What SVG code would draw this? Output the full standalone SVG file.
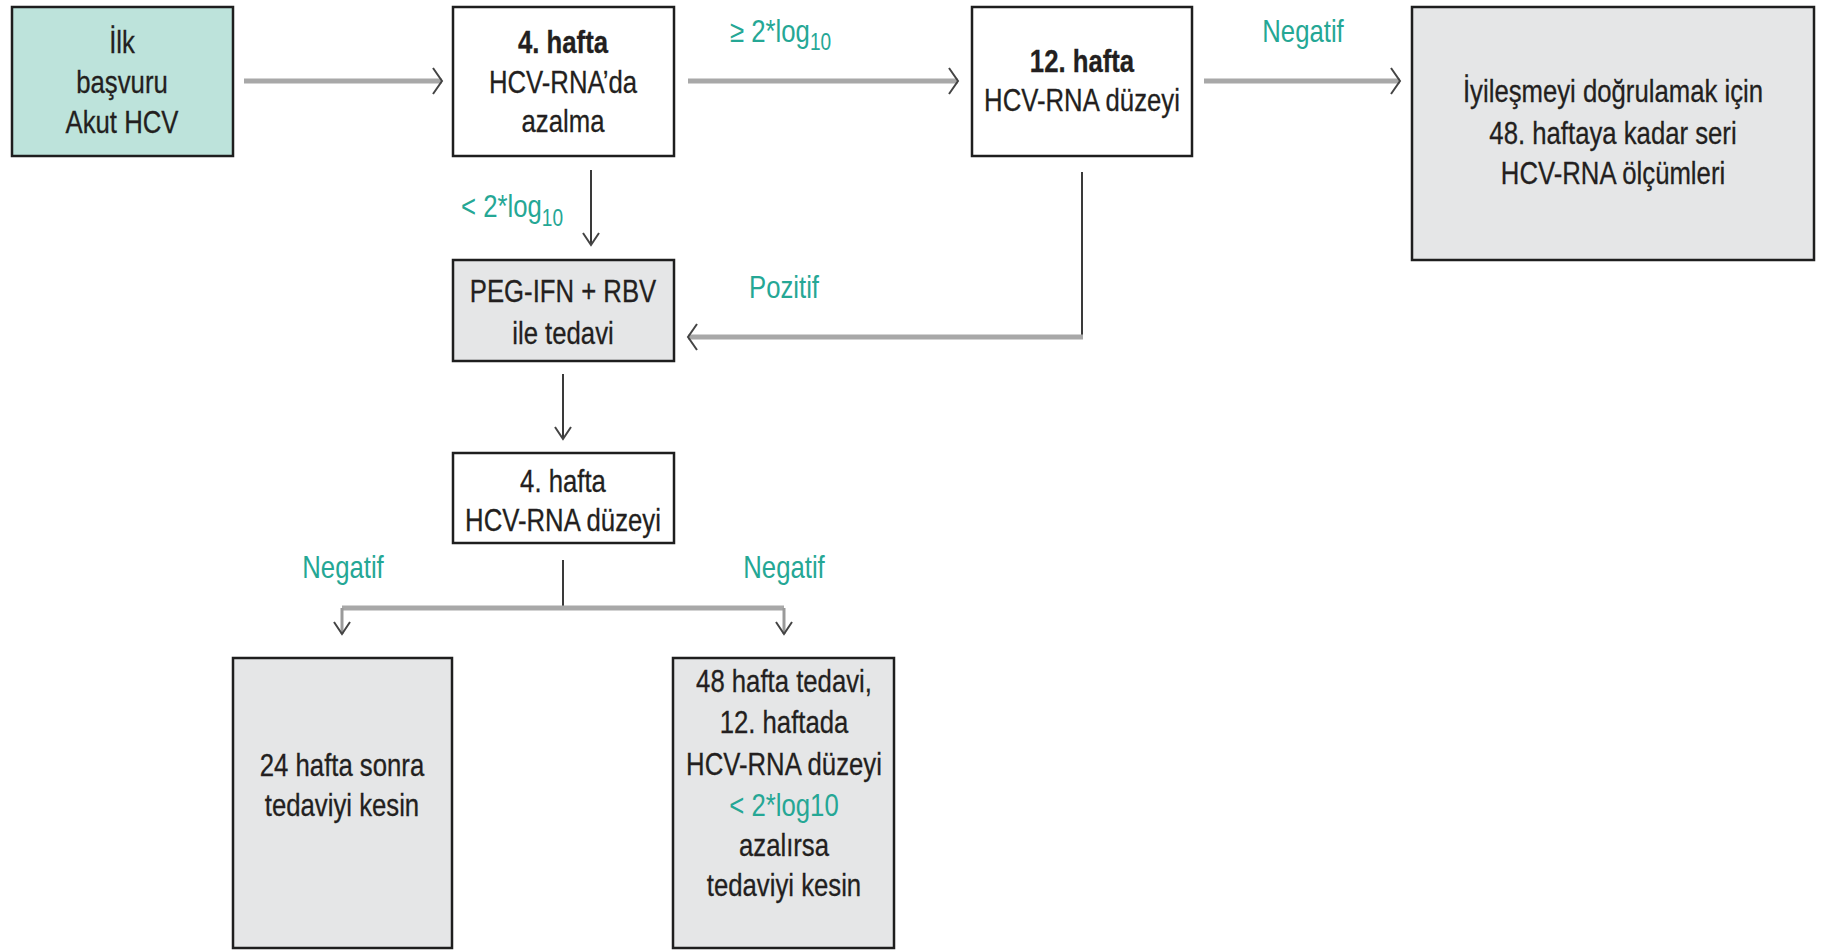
<svg xmlns="http://www.w3.org/2000/svg" width="1822" height="950" viewBox="0 0 1822 950">
  <style>
    .box { stroke: #1e1e1e; stroke-width: 2.5; }
    .white { fill: #ffffff; }
    .gray { fill: #e5e6e7; }
    .teal { fill: #bde3db; }
    .t { font-family: "Liberation Sans", Arial, sans-serif; font-size: 31px; fill: #231f20; text-anchor: middle; stroke: #231f20; stroke-width: 0.3; }
    .b { font-weight: bold; }
    .lbl { font-family: "Liberation Sans", Arial, sans-serif; font-size: 31px; fill: #25a795; }
    .c { text-anchor: middle; }
    .thick { fill: none; stroke: #a8a8a8; stroke-width: 5; }
    .thin { fill: none; stroke: #3a3a3a; stroke-width: 2; }
    .mid { fill: none; stroke: #9a9a9a; stroke-width: 3; }
  </style>
  <defs>
    <marker id="chev" markerUnits="userSpaceOnUse" markerWidth="14" markerHeight="30" refX="11" refY="14" orient="auto" viewBox="0 0 14 28">
      <path d="M2,1 L11,14 L2,27" fill="none" stroke="#444" stroke-width="2"/>
    </marker>
    <marker id="chevs" markerUnits="userSpaceOnUse" markerWidth="16" markerHeight="20" refX="13" refY="9" orient="auto" viewBox="0 0 16 18">
      <path d="M1,1 L13,9 L1,17" fill="none" stroke="#444" stroke-width="2"/>
    </marker>
  </defs>

  <g id="connectors">
    <path class="thick" d="M244,81 H442" marker-end="url(#chev)"/>
    <path class="thick" d="M688,81 H958" marker-end="url(#chev)"/>
    <path class="thick" d="M1204,81 H1400" marker-end="url(#chev)"/>
    <path class="thin" d="M591,170 V245" marker-end="url(#chevs)"/>
    <path class="thin" d="M1082,172 V338"/>
    <path class="thick" d="M1083,337 H688" marker-end="url(#chev)"/>
    <path class="thin" d="M563,374 V439" marker-end="url(#chevs)"/>
    <path class="thin" d="M563,560 V607"/>
    <path class="thick" d="M342,608 H784"/>
    <path class="mid" d="M342,608 V634" marker-end="url(#chevs)"/>
    <path class="mid" d="M784,608 V634" marker-end="url(#chevs)"/>
    <text class="lbl" transform="translate(730,42) scale(0.83 1)">≥ 2*log<tspan font-size="23" dy="8">10</tspan></text>
    <text class="lbl c" transform="translate(1303,42) scale(0.83 1)">Negatif</text>
    <text class="lbl" transform="translate(461,217) scale(0.83 1)">&lt; 2*log<tspan font-size="23" dy="9">10</tspan></text>
    <text class="lbl c" transform="translate(784,298) scale(0.83 1)">Pozitif</text>
    <text class="lbl c" transform="translate(343,578) scale(0.83 1)">Negatif</text>
    <text class="lbl c" transform="translate(784,578) scale(0.83 1)">Negatif</text>
  </g>

  <g id="node-ilk">
    <rect class="box teal" x="12" y="7" width="221" height="149"/>
    <text class="t" transform="translate(122,53) scale(0.83 1)">İlk</text>
    <text class="t" transform="translate(122,93) scale(0.83 1)">başvuru</text>
    <text class="t" transform="translate(122,133) scale(0.83 1)">Akut HCV</text>
  </g>

  <g id="node-hafta4">
    <rect class="box white" x="453" y="7" width="221" height="149"/>
    <text class="t b" transform="translate(563,53) scale(0.83 1)">4. hafta</text>
    <text class="t" transform="translate(563,93) scale(0.83 1)">HCV-RNA’da</text>
    <text class="t" transform="translate(563,132) scale(0.83 1)">azalma</text>
  </g>

  <g id="node-hafta12">
    <rect class="box white" x="972" y="7" width="220" height="149"/>
    <text class="t b" transform="translate(1082,72) scale(0.83 1)">12. hafta</text>
    <text class="t" transform="translate(1082,111) scale(0.83 1)">HCV-RNA düzeyi</text>
  </g>

  <g id="node-iyilesme">
    <rect class="box gray" x="1412" y="7" width="402" height="253"/>
    <text class="t" transform="translate(1613,102) scale(0.83 1)">İyileşmeyi doğrulamak için</text>
    <text class="t" transform="translate(1613,144) scale(0.83 1)">48. haftaya kadar seri</text>
    <text class="t" transform="translate(1613,184) scale(0.83 1)">HCV-RNA ölçümleri</text>
  </g>

  <g id="node-peg">
    <rect class="box gray" x="453" y="260" width="221" height="101"/>
    <text class="t" transform="translate(563,302) scale(0.83 1)">PEG-IFN + RBV</text>
    <text class="t" transform="translate(563,344) scale(0.83 1)">ile tedavi</text>
  </g>

  <g id="node-hafta4b">
    <rect class="box white" x="453" y="453" width="221" height="90"/>
    <text class="t" transform="translate(563,492) scale(0.83 1)">4. hafta</text>
    <text class="t" transform="translate(563,531) scale(0.83 1)">HCV-RNA düzeyi</text>
  </g>

  <g id="node-24hafta">
    <rect class="box gray" x="233" y="658" width="219" height="290"/>
    <text class="t" transform="translate(342,776) scale(0.83 1)">24 hafta sonra</text>
    <text class="t" transform="translate(342,816) scale(0.83 1)">tedaviyi kesin</text>
  </g>

  <g id="node-48hafta">
    <rect class="box gray" x="673" y="658" width="221" height="290"/>
    <text class="t" transform="translate(784,692) scale(0.83 1)">48 hafta tedavi,</text>
    <text class="t" transform="translate(784,733) scale(0.83 1)">12. haftada</text>
    <text class="t" transform="translate(784,775) scale(0.83 1)">HCV-RNA düzeyi</text>
    <text class="lbl c" transform="translate(784,816) scale(0.83 1)">&lt; 2*log10</text>
    <text class="t" transform="translate(784,856) scale(0.83 1)">azalırsa</text>
    <text class="t" transform="translate(784,896) scale(0.83 1)">tedaviyi kesin</text>
  </g>
</svg>
